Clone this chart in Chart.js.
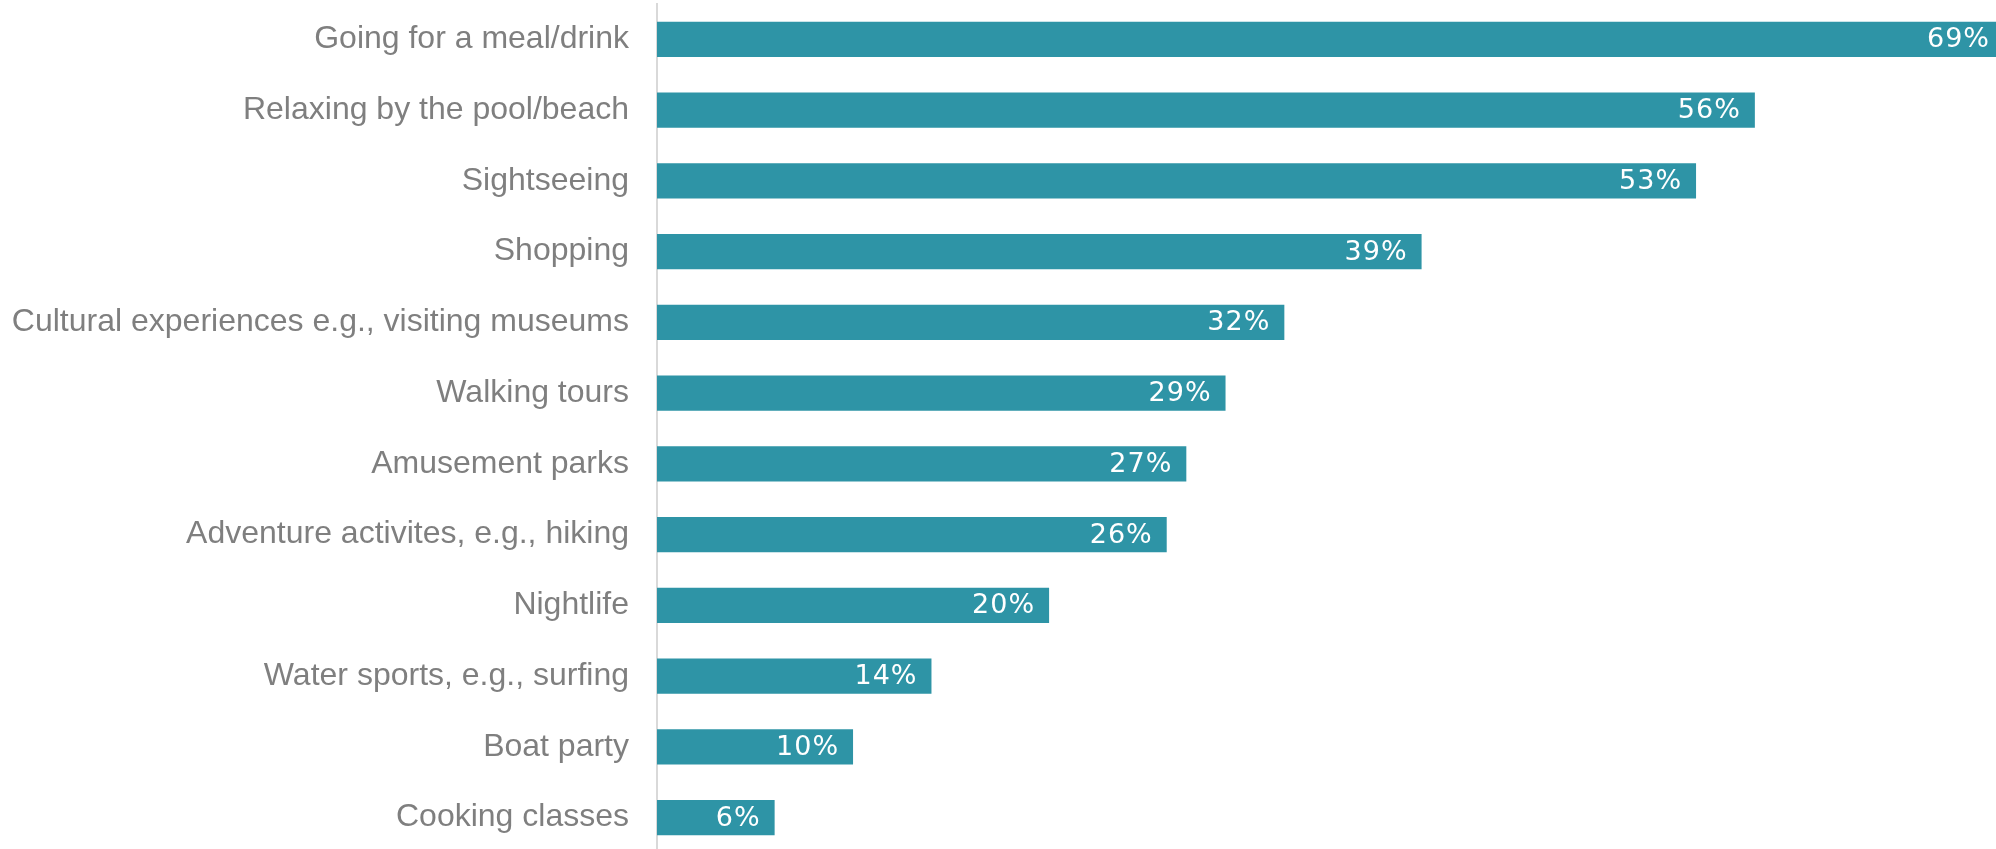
<!DOCTYPE html>
<html>
<head>
<meta charset="utf-8">
<script src="https://cdn.jsdelivr.net/npm/chart.js@4.4.1/dist/chart.umd.min.js"></script>
<style>
  html, body { margin: 0; padding: 0; background: #ffffff; overflow: hidden; }
  #wrap { width: 1996px; height: 853px; }
</style>
</head>
<body>
<div id="wrap"><canvas id="c" width="1996" height="853"></canvas></div>
<script>
const categories = [
  "Going for a meal/drink",
  "Relaxing by the pool/beach",
  "Sightseeing",
  "Shopping",
  "Cultural experiences e.g., visiting museums",
  "Walking tours",
  "Amusement parks",
  "Adventure activites, e.g., hiking",
  "Nightlife",
  "Water sports, e.g., surfing",
  "Boat party",
  "Cooking classes"
];
const shares = [69, 56, 53, 39, 32, 29, 27, 26, 20, 14, 10, 6];
const axisMax = 68.3;

const BAR_COLOR = '#2E94A6';

const valueLabels = {
  id: 'valueLabels',
  afterDatasetsDraw(chart) {
    const ctx = chart.ctx;
    const area = chart.chartArea;
    const meta = chart.getDatasetMeta(0);
    ctx.save();
    ctx.font = '27px "DejaVu Sans", sans-serif';
    if ('letterSpacing' in ctx) ctx.letterSpacing = '1px';
    ctx.fillStyle = '#ffffff';
    ctx.textAlign = 'right';
    ctx.textBaseline = 'middle';
    meta.data.forEach((el, i) => {
      let x;
      if (el.x > area.right) {
        x = area.right - 6;
      } else {
        x = el.x - 14;
      }
      ctx.fillText(shares[i] + '%', x, el.y + 1);
    });
    ctx.restore();
  }
};

new Chart(document.getElementById('c'), {
  type: 'bar',
  data: {
    labels: categories,
    datasets: [{
      data: shares,
      backgroundColor: BAR_COLOR,
      borderWidth: 0,
      categoryPercentage: 0.5,
      barPercentage: 1.0
    }]
  },
  options: {
    indexAxis: 'y',
    responsive: false,
    maintainAspectRatio: false,
    animation: false,
    devicePixelRatio: 1,
    layout: { padding: { top: 4, right: 0, bottom: 0, left: 0 } },
    plugins: {
      legend: { display: false },
      tooltip: { enabled: false }
    },
    scales: {
      x: {
        display: false,
        min: 0,
        max: axisMax
      },
      y: {
        afterFit(scale) {
          scale.width = 657;
          scale.paddingTop = 0;
          scale.paddingBottom = 0;
        },
        grid: { display: true, color: 'rgba(0,0,0,0)', drawTicks: false },
        border: { display: true, color: '#d9d9d9', width: 2 },
        ticks: {
          padding: 28,
          color: '#7f7f7f',
          font: { family: '"Liberation Sans", Arial, sans-serif', size: 32 }
        }
      }
    }
  },
  plugins: [valueLabels]
});
</script>
</body>
</html>
